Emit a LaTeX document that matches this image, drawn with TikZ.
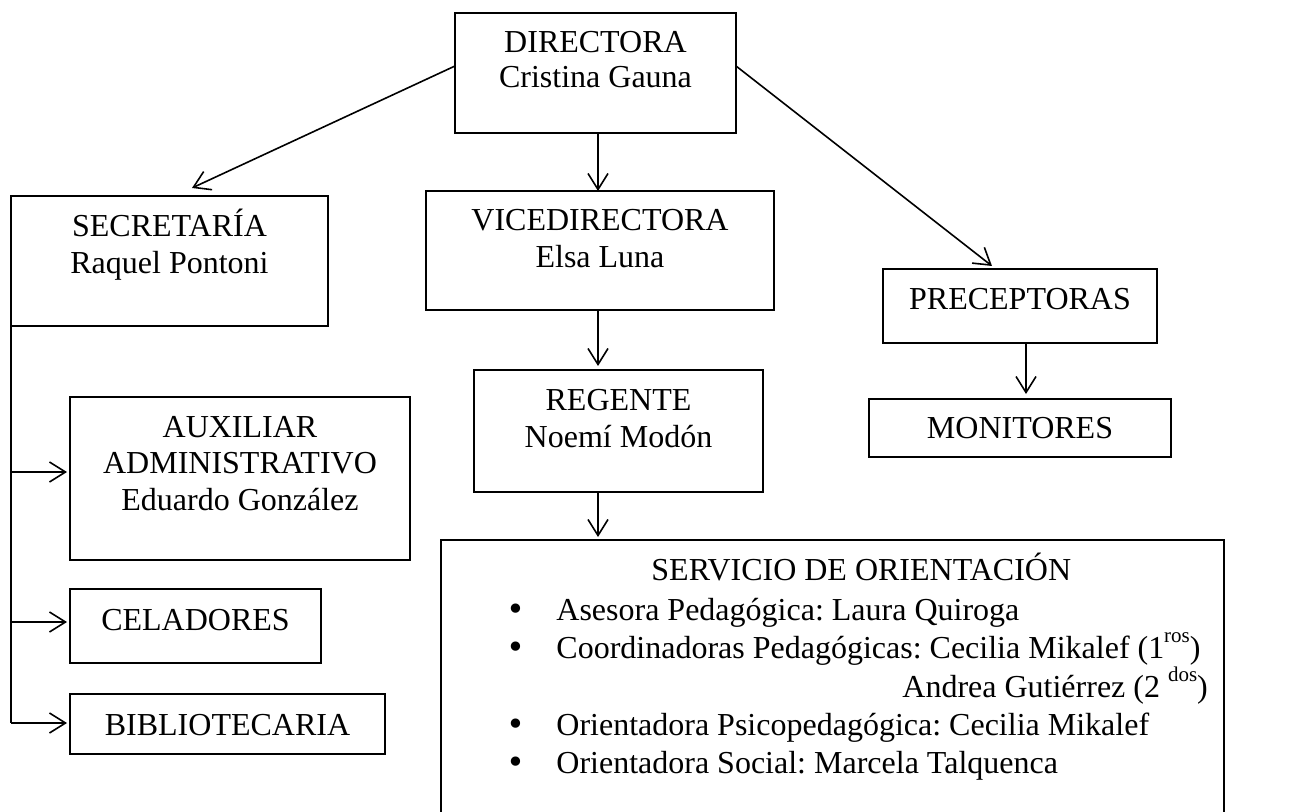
\documentclass[tikz,border=0pt]{standalone}
\usepackage{fontspec}
\setmainfont{Liberation Serif}
\newfontfamily\bulfont{DejaVu Sans}
\usetikzlibrary{arrows.meta,fit}
\newcommand\supx[1]{\raisebox{0.48em}{\fontsize{10.5}{12}\selectfont #1}}
\begin{document}
\frenchspacing
\begin{tikzpicture}[x=0.5pt,y=-0.5pt,
  box/.style={draw,line width=0.9pt,inner sep=0pt,outer sep=0pt},
  lbl/.style={anchor=base,inner sep=0pt,font=\fontsize{16}{18}\selectfont},
  lblw/.style={lbl,anchor=base west},
  bul/.style={anchor=base,inner sep=0pt,font=\bulfont\fontsize{16}{18}\selectfont},
  arr/.style={-{Straight Barb[length=8pt,width=10pt,line width=0.8pt]},line width=0.8pt},
  ln/.style={line width=0.8pt}]
\clip (0,0) rectangle (1289,812);
\fill[white] (0,0) rectangle (1289,812);
% boxes
\node[box,fit={(455,13) (736,133)}] (dir) {};
\node[box,fit={(11,196) (328,326)}] (sec) {};
\node[box,fit={(426,191) (774,310)}] (vic) {};
\node[box,fit={(883,269) (1157,343)}] (pre) {};
\node[box,fit={(869,399) (1171,457)}] (mon) {};
\node[box,fit={(474,370) (763,492)}] (reg) {};
\node[box,fit={(70,397) (410,560)}] (aux) {};
\node[box,fit={(70,589) (321,663)}] (cel) {};
\node[box,fit={(70,694) (385,754)}] (bib) {};
\node[box,fit={(441,540) (1224,830)}] (ser) {};
% texts
\node[lbl] (tdir1) at (595.5,53) {DIRECTORA};
\node[lbl] (tdir2) at (595.5,88) {Cristina Gauna};
\node[lbl] (tsec1) at (169.5,237) {SECRETARÍA};
\node[lbl] (tsec2) at (169.5,274) {Raquel Pontoni};
\node[lbl] (tvic1) at (600,231) {VICEDIRECTORA};
\node[lbl] (tvic2) at (600,268) {Elsa Luna};
\node[lbl] (tpre) at (1020,310) {PRECEPTORAS};
\node[lbl] (tmon) at (1020,438) {MONITORES};
\node[lbl] (treg1) at (618.5,410) {REGENTE};
\node[lbl] (treg2) at (618.5,447) {Noemí Modón};
\node[lbl] (taux1) at (240,437) {AUXILIAR};
\node[lbl] (taux2) at (240,473) {ADMINISTRATIVO};
\node[lbl] (taux3) at (240,510) {Eduardo González};
\node[lbl] (tcel) at (195.5,630) {CELADORES};
\node[lbl] (tbib) at (227.5,735) {BIBLIOTECARIA};
\node[lblw] (tser) at (651,580) {SERVICIO DE ORIENTACIÓN};
\node[bul] (b1) at (516,620) {•};
\node[bul] (b2) at (516,658) {•};
\node[bul] (b3) at (516,735) {•};
\node[bul] (b4) at (516,773) {•};
\node[lblw] (i1) at (556,620) {Asesora Pedagógica: Laura Quiroga};
\node[lblw] (i2) at (556,658) {Coordinadoras Pedagógicas: Cecilia Mikalef (1\supx{ros})};
\node[lblw] (i2b) at (902,697) {Andrea Gutiérrez (2 \supx{dos})};
\node[lblw] (i3) at (556,735) {Orientadora Psicopedagógica: Cecilia Mikalef};
\node[lblw] (i4) at (556,773) {Orientadora Social: Marcela Talquenca};
% connectors
\draw[arr] (dir.west |- 0,66) -- ([yshift=4pt]sec.north -| 192,0);
\draw[arr] (dir.east |- 0,66) -- ([yshift=1.5pt]pre.north -| 992,0);
\draw[arr] (dir.south -| 598,0) -- (vic.north -| 598,0);
\draw[arr] (vic.south -| 598,0) -- ([yshift=2pt]reg.north -| 598,0);
\draw[arr] (reg.south -| 598,0) -- ([yshift=1.5pt]ser.north -| 598,0);
\draw[arr] (pre.south -| 1026,0) -- ([yshift=2.5pt]mon.north -| 1026,0);
\coordinate (bend) at (11,723);
\draw[ln] (sec.south -| bend) -- (bend);
\draw[arr] (bend) -- ([xshift=-1.5pt]bib.west |- bend);
\draw[arr] (11,472) -- ([xshift=-1.5pt]aux.west |- 0,472);
\draw[arr] (11,622) -- ([xshift=-1.5pt]cel.west |- 0,622);
\end{tikzpicture}
\end{document}
